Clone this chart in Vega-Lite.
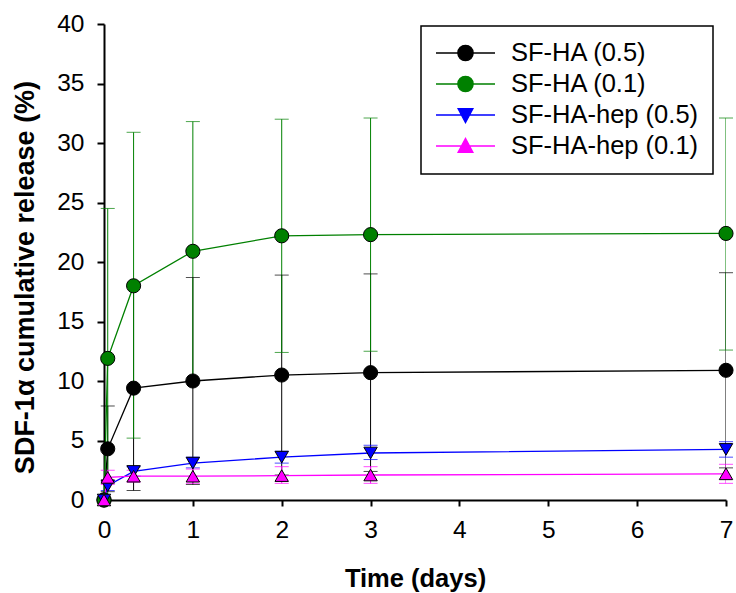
{
  "$schema": "https://vega.github.io/schema/vega-lite/v6.json",
  "width": 622,
  "height": 476,
  "autosize": {"type": "none"},
  "padding": {"left": 104, "top": 24, "right": 10, "bottom": 93},
  "background": "white",
  "config": {
    "view": {"stroke": null},
    "font": "Liberation Sans",
    "axis": {
      "grid": false,
      "labelFlush": false,
      "domainColor": "black",
      "domainWidth": 2,
      "tickColor": "black",
      "tickWidth": 2,
      "labelFont": "Liberation Sans",
      "labelFontSize": 24.5,
      "labelColor": "black",
      "titleFont": "Liberation Sans",
      "titleFontWeight": "bold",
      "titleColor": "black"
    },
    "axisX": {"tickSize": 6, "labelPadding": 12, "titleFontSize": 25.5, "titlePadding": 25},
    "axisY": {"tickSize": 7, "labelPadding": 13, "titleFontSize": 27, "titlePadding": 17, "titleY": 253},
    "legend": {
      "strokeColor": "black",
      "strokeWidth": 1.5,
      "fillColor": "white",
      "padding": 14
    }
  },
  "data": {
    "values": [
      {"series": "SF-HA (0.5)", "t": 0, "mean": 0},
      {"series": "SF-HA (0.5)", "t": 0.042, "mean": 4.3, "lo": 0.7, "hi": 7.9},
      {"series": "SF-HA (0.5)", "t": 0.333, "mean": 9.4, "lo": 0.8, "hi": 18.0},
      {"series": "SF-HA (0.5)", "t": 1, "mean": 10.0, "lo": 1.3, "hi": 18.7},
      {"series": "SF-HA (0.5)", "t": 2, "mean": 10.5, "lo": 2.1, "hi": 18.9},
      {"series": "SF-HA (0.5)", "t": 3, "mean": 10.7, "lo": 2.4, "hi": 19.0},
      {"series": "SF-HA (0.5)", "t": 7, "mean": 10.9, "lo": 2.7, "hi": 19.1},
      {"series": "SF-HA (0.1)", "t": 0, "mean": 0},
      {"series": "SF-HA (0.1)", "t": 0.042, "mean": 11.9, "lo": -0.7, "hi": 24.5},
      {"series": "SF-HA (0.1)", "t": 0.333, "mean": 18.0, "lo": 5.2, "hi": 30.9},
      {"series": "SF-HA (0.1)", "t": 1, "mean": 20.9, "lo": 10.0, "hi": 31.8},
      {"series": "SF-HA (0.1)", "t": 2, "mean": 22.2, "lo": 12.4, "hi": 32.0},
      {"series": "SF-HA (0.1)", "t": 3, "mean": 22.3, "lo": 12.5, "hi": 32.1},
      {"series": "SF-HA (0.1)", "t": 7, "mean": 22.4, "lo": 12.6, "hi": 32.1},
      {"series": "SF-HA-hep (0.5)", "t": 0, "mean": 0},
      {"series": "SF-HA-hep (0.5)", "t": 0.042, "mean": 1.2, "lo": 0.8, "hi": 1.6},
      {"series": "SF-HA-hep (0.5)", "t": 0.333, "mean": 2.4, "lo": 2.0, "hi": 2.8},
      {"series": "SF-HA-hep (0.5)", "t": 1, "mean": 3.1, "lo": 2.7, "hi": 3.6},
      {"series": "SF-HA-hep (0.5)", "t": 2, "mean": 3.6, "lo": 3.1, "hi": 4.1},
      {"series": "SF-HA-hep (0.5)", "t": 3, "mean": 3.95, "lo": 3.4, "hi": 4.6},
      {"series": "SF-HA-hep (0.5)", "t": 7, "mean": 4.25, "lo": 3.6, "hi": 4.9},
      {"series": "SF-HA-hep (0.1)", "t": 0, "mean": 0},
      {"series": "SF-HA-hep (0.1)", "t": 0.042, "mean": 1.9, "lo": 1.3, "hi": 2.5},
      {"series": "SF-HA-hep (0.1)", "t": 0.333, "mean": 2.0, "lo": 1.5, "hi": 2.5},
      {"series": "SF-HA-hep (0.1)", "t": 1, "mean": 2.0, "lo": 1.4, "hi": 2.6},
      {"series": "SF-HA-hep (0.1)", "t": 2, "mean": 2.05, "lo": 1.4, "hi": 2.8},
      {"series": "SF-HA-hep (0.1)", "t": 3, "mean": 2.1, "lo": 1.4, "hi": 2.8},
      {"series": "SF-HA-hep (0.1)", "t": 7, "mean": 2.2, "lo": 1.4, "hi": 3.0}
    ]
  },
  "encoding": {
    "x": {
      "field": "t",
      "type": "quantitative",
      "title": "Time (days)",
      "scale": {"domain": [0, 7], "nice": false, "zero": false, "padding": 0},
      "axis": {"values": [0, 1, 2, 3, 4, 5, 6, 7], "format": "d"}
    },
    "color": {
      "field": "series",
      "type": "nominal",
      "scale": {
        "domain": ["SF-HA (0.5)", "SF-HA (0.1)", "SF-HA-hep (0.5)", "SF-HA-hep (0.1)"],
        "range": ["#000000", "#008000", "#0000FF", "#FF00FF"]
      },
      "legend": {
        "title": null,
        "orient": "none",
        "legendX": 317,
        "legendY": 2,
        "labelFont": "Liberation Sans",
        "labelFontSize": 25.5,
        "labelColor": "black",
        "labelOffset": 32.5,
        "labelLimit": 400,
        "symbolSize": 576,
        "symbolOffset": 17.5,
        "rowPadding": 4,
        "symbolStrokeWidth": 1.3,
        "symbolOpacity": 1,
        "encode": {
          "symbols": {
            "update": {
              "shape": {"signal": "datum.value === 'SF-HA-hep (0.5)' ? 'M-2.46,0H2.46M-0.62,-0.53L0.62,-0.53L0,0.63Z' : datum.value === 'SF-HA-hep (0.1)' ? 'M-2.46,0H2.46M-0.62,0.53L0.62,0.53L0,-0.63Z' : 'M-2.46,0H-0.64M0.64,0H2.46M-0.64,0A0.64,0.64,0,1,1,0.64,0A0.64,0.64,0,1,1,-0.64,0Z'"},
              "fill": {"scale": "color", "field": "value"},
              "stroke": {"scale": "color", "field": "value"},
              "strokeWidth": {"value": 1.3},
              "size": {"value": 576},
              "opacity": {"value": 1}
            }
          }
        }
      }
    }
  },
  "layer": [
    {
      "transform": [{"filter": "isValid(datum.lo)"}],
      "mark": {"type": "rule", "strokeWidth": 1, "clip": true},
      "encoding": {
        "y": {"field": "lo", "type": "quantitative", "title": "SDF-1α cumulative release (%)", "scale": {"domain": [0, 40], "nice": false}, "axis": {"values": [0, 5, 10, 15, 20, 25, 30, 35, 40]}},
        "y2": {"field": "hi"}
      }
    },
    {
      "transform": [{"filter": "isValid(datum.lo) && datum.lo >= 0"}],
      "mark": {"type": "tick", "orient": "horizontal", "size": 14, "thickness": 1},
      "encoding": {
        "y": {"field": "lo", "type": "quantitative", "title": "SDF-1α cumulative release (%)"}
      }
    },
    {
      "transform": [{"filter": "isValid(datum.hi)"}],
      "mark": {"type": "tick", "orient": "horizontal", "size": 14, "thickness": 1},
      "encoding": {
        "y": {"field": "hi", "type": "quantitative", "title": "SDF-1α cumulative release (%)"}
      }
    },
    {
      "mark": {"type": "line", "strokeWidth": 1.3},
      "encoding": {
        "y": {"field": "mean", "type": "quantitative", "title": "SDF-1α cumulative release (%)"}
      }
    },
    {
      "transform": [{"filter": "datum.series === 'SF-HA (0.5)' || datum.series === 'SF-HA (0.1)'"}],
      "mark": {"type": "point", "shape": "circle", "size": 200, "filled": true, "stroke": "black", "strokeWidth": 1, "opacity": 1},
      "encoding": {
        "y": {"field": "mean", "type": "quantitative", "title": "SDF-1α cumulative release (%)"}
      }
    },
    {
      "transform": [{"filter": "datum.series === 'SF-HA-hep (0.5)'"}],
      "mark": {"type": "point", "shape": "triangle-down", "size": 180, "filled": true, "stroke": "black", "strokeWidth": 1, "opacity": 1},
      "encoding": {
        "y": {"field": "mean", "type": "quantitative", "title": "SDF-1α cumulative release (%)"}
      }
    },
    {
      "transform": [{"filter": "datum.series === 'SF-HA-hep (0.1)'"}],
      "mark": {"type": "point", "shape": "triangle-up", "size": 180, "filled": true, "stroke": "black", "strokeWidth": 1, "opacity": 1},
      "encoding": {
        "y": {"field": "mean", "type": "quantitative", "title": "SDF-1α cumulative release (%)"}
      }
    }
  ]
}
